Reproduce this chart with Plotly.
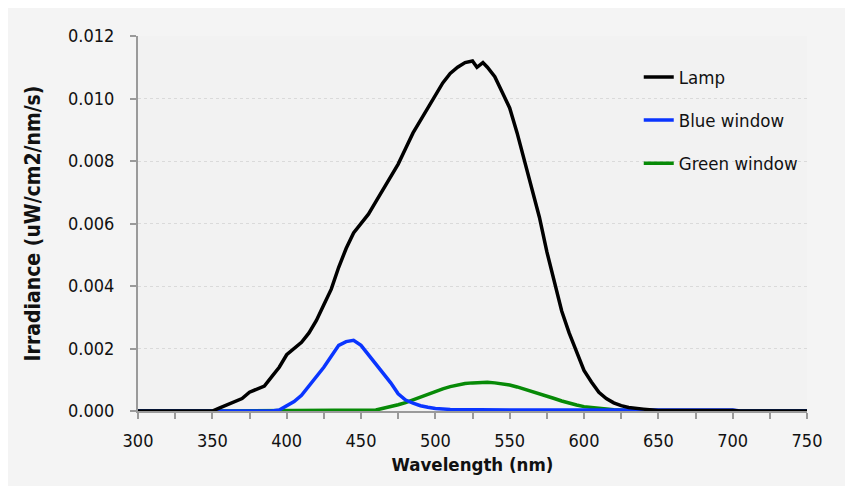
import plotly.graph_objects as go

# ---- data ----
lamp_nm = [300, 350, 355, 360, 365, 370, 375, 380, 385, 390, 395, 400, 405, 410, 415, 420,
           425, 430, 435, 440, 445, 450, 455, 460, 465, 470, 475, 480, 485, 490, 495, 500,
           505, 510, 515, 520, 525, 528, 532, 535, 540, 545, 550, 555, 560, 565, 570, 575,
           580, 585, 590, 595, 600, 605, 610, 615, 620, 625, 630, 640, 650, 700, 705, 750]
lamp_val = [0, 0, 0.0001, 0.0002, 0.0003, 0.0004, 0.0006, 0.0007, 0.0008, 0.0011, 0.0014,
            0.0018, 0.0020, 0.0022, 0.0025, 0.0029, 0.0034, 0.0039, 0.0046, 0.0052, 0.0057,
            0.0060, 0.0063, 0.0067, 0.0071, 0.0075, 0.0079, 0.0084, 0.0089, 0.0093, 0.0097,
            0.0101, 0.0105, 0.0108, 0.0110, 0.01115, 0.0112, 0.0110, 0.01115, 0.0110, 0.0107,
            0.0102, 0.0097, 0.0089, 0.0080, 0.0070, 0.0062, 0.0051, 0.0042, 0.0032, 0.0025,
            0.0019, 0.0013, 0.00093, 0.0006, 0.0004, 0.00026, 0.00017, 0.00011, 0.00006,
            0.00002, 0.00002, 0, 0]

blue_nm = [300, 390, 395, 400, 405, 410, 415, 420, 425, 430, 435, 440, 445, 450, 455, 460,
           465, 470, 475, 480, 485, 490, 495, 500, 510, 550, 700, 705, 750]
blue_val = [0, 0, 0.00003, 0.00015, 0.0003, 0.0005, 0.0008, 0.0011, 0.0014, 0.00175, 0.0021,
            0.00222, 0.00226, 0.0021, 0.0018, 0.0015, 0.0012, 0.0009, 0.00055, 0.00035,
            0.00025, 0.00017, 0.00012, 0.00008, 0.00005, 0.00003, 0.00003, 0, 0]

green_nm = [300, 350, 460, 465, 470, 475, 480, 485, 490, 495, 500, 505, 510, 515, 520, 525,
            530, 535, 540, 545, 550, 555, 560, 565, 570, 575, 580, 585, 590, 595, 600, 610,
            620, 630, 650, 750]
green_val = [0, 0, 0.00003, 0.00008, 0.00013, 0.0002, 0.00027, 0.00036, 0.00045, 0.00055,
             0.00064, 0.00071, 0.00078, 0.00084, 0.00088, 0.0009, 0.00092, 0.00092, 0.0009,
             0.00087, 0.00083, 0.00077, 0.0007, 0.00063, 0.00055, 0.00047, 0.0004, 0.00032,
             0.00025, 0.00019, 0.00014, 0.00008, 0.00004, 0.00002, 0, 0]

y_ticks = [0, 0.002, 0.004, 0.006, 0.008, 0.010, 0.012]
y_ticktext = ["0.000", "0.002", "0.004", "0.006", "0.008", "0.010", "0.012"]
x_ticks = [300, 350, 400, 450, 500, 550, 600, 650, 700, 750]

FONT = "DejaVu Sans Condensed, sans-serif"

fig = go.Figure()
fig.add_trace(go.Scatter(x=green_nm, y=green_val, mode="lines", name="Green window",
                         line=dict(color="#078a07", width=3.5), legendgroup="g", legendrank=3))
fig.add_trace(go.Scatter(x=blue_nm, y=blue_val, mode="lines", name="Blue window",
                         line=dict(color="#0a35ff", width=3.5), legendgroup="b", legendrank=2))
fig.add_trace(go.Scatter(x=lamp_nm, y=lamp_val, mode="lines", name="Lamp",
                         line=dict(color="#000000", width=3.5), legendgroup="l", legendrank=1))

fig.update_layout(
    width=853, height=486,
    margin=dict(l=130, r=54, t=28, b=83),
    paper_bgcolor="#f4f4f4",
    plot_bgcolor="#f2f2f2",
    font=dict(family=FONT, size=18, color="#111111"),
    legend=dict(x=0.7485, y=0.94, xanchor="left", yanchor="top",
                bgcolor="rgba(0,0,0,0)", tracegroupgap=16,
                font=dict(family=FONT, size=18.5, color="#111111")),
)
fig.update_xaxes(
    range=[300, 750], tickvals=x_ticks, ticks="outside", ticklen=6, tickwidth=1.5,
    tickcolor="#9a9a9a", showline=True, linecolor="#9a9a9a", linewidth=2,
    showgrid=False, zeroline=False, ticklabelstandoff=6,
    minor=dict(dtick=25, tick0=300, ticks="outside", ticklen=6, tickwidth=1.5,
               tickcolor="#9a9a9a", showgrid=False),
    title=dict(text="<b>Wavelength (nm)</b>", standoff=8, font=dict(size=18.5)),
)
fig.update_yaxes(
    range=[0, 0.012], tickvals=y_ticks, ticktext=y_ticktext, ticks="outside", ticklen=6,
    tickwidth=1.5, tickcolor="#9a9a9a", showline=True, linecolor="#9a9a9a", linewidth=2,
    showgrid=True, gridcolor="#dadada", gridwidth=1, griddash="3px,3px",
    zeroline=False, ticklabelstandoff=12,
    title=dict(text="<b>Irradiance (uW/cm2/nm/s)</b>", standoff=22, font=dict(size=21)),
)

fig.write_html("out.html")
